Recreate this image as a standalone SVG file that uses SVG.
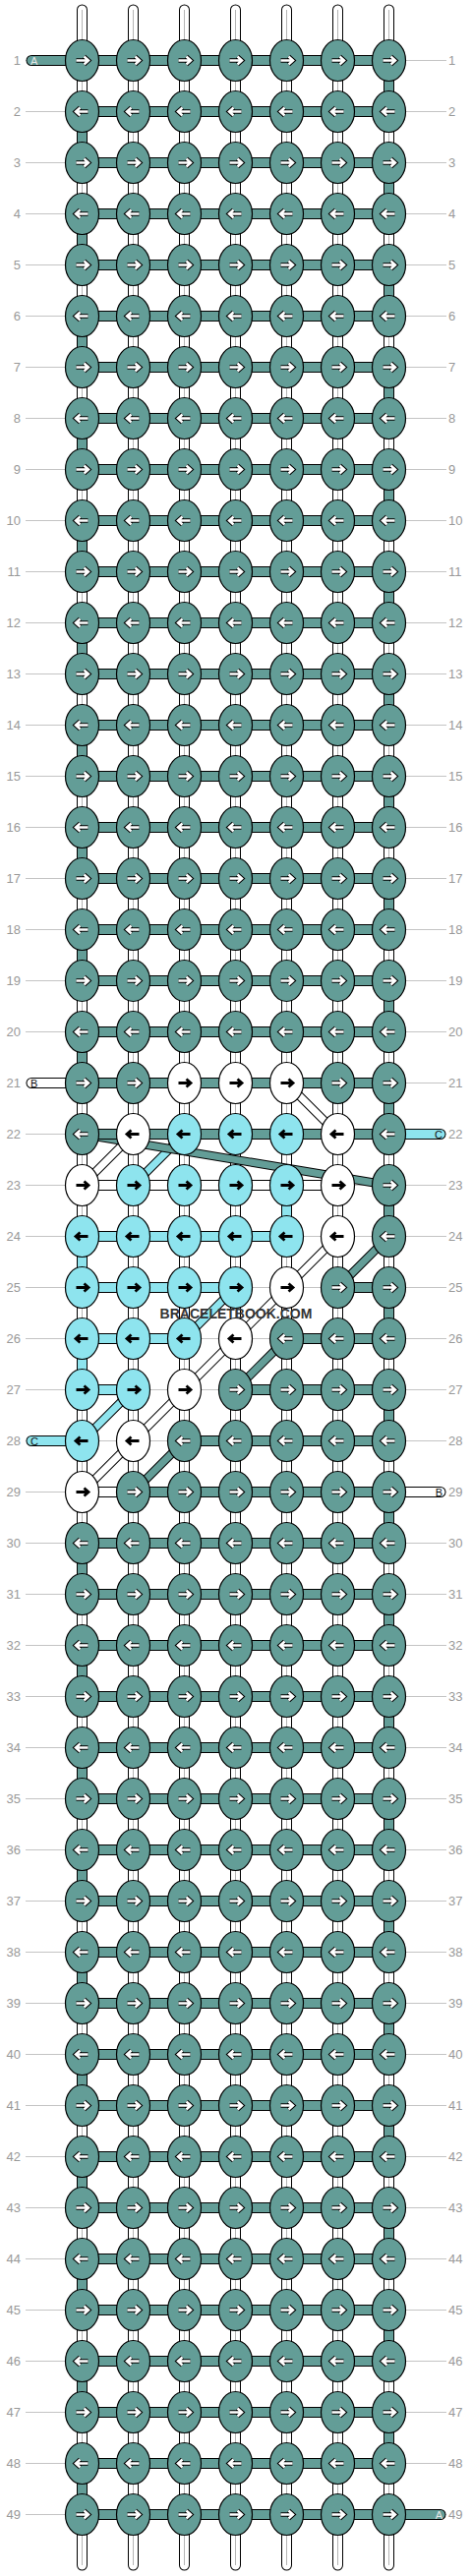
<svg xmlns="http://www.w3.org/2000/svg" width="480" height="2620" viewBox="0 0 480 2620">
<style>
.gl{fill:none;stroke:#c4c4c4;stroke-width:1}
.k{fill:none;stroke:#000;stroke-width:11}
.kd{fill:none;stroke:#000;stroke-width:9}
.fT{fill:none;stroke:#639d97;stroke-width:9}
.fC{fill:none;stroke:#8ee4ee;stroke-width:9}
.fW{fill:none;stroke:#fff;stroke-width:9}
.dT{fill:none;stroke:#639d97;stroke-width:7}
.dC{fill:none;stroke:#8ee4ee;stroke-width:7}
.dW{fill:none;stroke:#fff;stroke-width:7}
.gc{fill:none;stroke:#b4b4b4;stroke-width:1}
.rc{stroke-linecap:round}
.eT{fill:#639d97;stroke:#000;stroke-width:1.2}
.eW{fill:#fff;stroke:#000;stroke-width:1.2}
.eC{fill:#8ee4ee;stroke:#000;stroke-width:1.2}
.ao{fill:none;stroke:#000;stroke-width:4.6}
.ai{fill:none;stroke:#fff;stroke-width:2.5}
.ab{fill:none;stroke:#000;stroke-width:2.8}
.l{font-family:"Liberation Sans",Arial,sans-serif;font-size:13px;fill:#999}
.s{font-family:"Liberation Sans",Arial,sans-serif;font-size:11px}
.wm{font-family:"Liberation Sans",Arial,sans-serif;font-size:14px;font-weight:bold;fill:#333}
</style>
<defs>
<path id="aR" d="M-6 0H6.5M2-4L6.5 0 2 4"/>
<path id="aL" d="M6 0H-6.5M-2-4L-6.5 0-2 4"/>
<g id="TR"><ellipse class="eT" rx="17" ry="21"/><use href="#aR" class="ao"/><use href="#aR" class="ai"/></g>
<g id="TL"><ellipse class="eT" rx="17" ry="21"/><use href="#aL" class="ao"/><use href="#aL" class="ai"/></g>
<g id="WR"><ellipse class="eW" rx="17" ry="21"/><use href="#aR" class="ab"/></g>
<g id="WL"><ellipse class="eW" rx="17" ry="21"/><use href="#aL" class="ab"/></g>
<g id="CR"><ellipse class="eC" rx="17" ry="21"/><use href="#aR" class="ab"/></g>
<g id="CL"><ellipse class="eC" rx="17" ry="21"/><use href="#aL" class="ab"/></g>
<path id="vW" d="M83.5 10V2609M135.5 10V2609M187.5 10V2609M239.5 10V2609M291.5 10V2609M343.5 10V2609M395.5 10V2609"/>
<path id="vT" d="M395.5 61.5V113.5M395.5 165.5V217.5M395.5 269.5V321.5M395.5 373.5V425.5M395.5 477.5V529.5M395.5 581.5V633.5M395.5 685.5V737.5M395.5 789.5V841.5M395.5 893.5V945.5M395.5 997.5V1049.5M395.5 1101.5V1153.5M395.5 1205.5V1257.5M395.5 1309.5V1361.5M395.5 1413.5V1465.5M395.5 1517.5V1569.5M395.5 1621.5V1673.5M395.5 1725.5V1777.5M395.5 1829.5V1881.5M395.5 1933.5V1985.5M395.5 2037.5V2089.5M395.5 2141.5V2193.5M395.5 2245.5V2297.5M395.5 2349.5V2401.5M395.5 2453.5V2505.5M83.5 113.5V165.5M83.5 217.5V269.5M83.5 321.5V373.5M83.5 425.5V477.5M83.5 529.5V581.5M83.5 633.5V685.5M83.5 737.5V789.5M83.5 841.5V893.5M83.5 945.5V997.5M83.5 1049.5V1101.5M83.5 1569.5V1621.5M83.5 1673.5V1725.5M83.5 1777.5V1829.5M83.5 1881.5V1933.5M83.5 1985.5V2037.5M83.5 2089.5V2141.5M83.5 2193.5V2245.5M83.5 2297.5V2349.5M83.5 2401.5V2453.5M83.5 2505.5V2557.5"/>
<path id="vC" d="M291.5 1205.5V1257.5M83.5 1257.5V1309.5M83.5 1361.5V1413.5"/>
<path id="hT" d="M83.5 61.5H395.5M83.5 113.5H395.5M83.5 165.5H395.5M83.5 217.5H395.5M83.5 269.5H395.5M83.5 321.5H395.5M83.5 373.5H395.5M83.5 425.5H395.5M83.5 477.5H395.5M83.5 529.5H395.5M83.5 581.5H395.5M83.5 633.5H395.5M83.5 685.5H395.5M83.5 737.5H395.5M83.5 789.5H395.5M83.5 841.5H395.5M83.5 893.5H395.5M83.5 945.5H395.5M83.5 997.5H395.5M83.5 1049.5H395.5M83.5 1101.5H395.5M83.5 1153.5H395.5M343.5 1309.5H395.5M291.5 1361.5H395.5M239.5 1413.5H395.5M187.5 1465.5H395.5M135.5 1517.5H395.5M83.5 1569.5H395.5M83.5 1621.5H395.5M83.5 1673.5H395.5M83.5 1725.5H395.5M83.5 1777.5H395.5M83.5 1829.5H395.5M83.5 1881.5H395.5M83.5 1933.5H395.5M83.5 1985.5H395.5M83.5 2037.5H395.5M83.5 2089.5H395.5M83.5 2141.5H395.5M83.5 2193.5H395.5M83.5 2245.5H395.5M83.5 2297.5H395.5M83.5 2349.5H395.5M83.5 2401.5H395.5M83.5 2453.5H395.5M83.5 2505.5H395.5M83.5 2557.5H395.5"/>
<path id="hC" d="M83.5 1257.5H291.5M83.5 1309.5H239.5M83.5 1361.5H187.5M83.5 1413.5H135.5"/>
<path id="hW" d="M83.5 1205.5H343.5M83.5 1517.5H135.5"/>
<path id="sT" d="M32 61.5H83.5M395.5 2557.5H448"/>
<path id="sW" d="M32 1101.5H83.5M395.5 1517.5H448"/>
<path id="sC" d="M395.5 1153.5H448M32 1465.5H83.5"/>
<path id="dW" d="M291.5 1101.5L343.5 1153.5M135.5 1153.5L83.5 1205.5M343.5 1257.5L83.5 1517.5"/>
<path id="dC" d="M187.5 1153.5L135.5 1205.5M239.5 1309.5L187.5 1361.5M135.5 1413.5L83.5 1465.5"/>
<path id="dT" d="M83.5 1153.5L395.5 1205.5M395.5 1257.5L343.5 1309.5M291.5 1361.5L239.5 1413.5M187.5 1465.5L135.5 1517.5"/>
</defs>
<rect width="480" height="2620" fill="#fff"/>
<g id="connectors">
<path class="gl" d="M26 61.5H454M26 113.5H454M26 165.5H454M26 217.5H454M26 269.5H454M26 321.5H454M26 373.5H454M26 425.5H454M26 477.5H454M26 529.5H454M26 581.5H454M26 633.5H454M26 685.5H454M26 737.5H454M26 789.5H454M26 841.5H454M26 893.5H454M26 945.5H454M26 997.5H454M26 1049.5H454M26 1101.5H454M26 1153.5H454M26 1205.5H454M26 1257.5H454M26 1309.5H454M26 1361.5H454M26 1413.5H454M26 1465.5H454M26 1517.5H454M26 1569.5H454M26 1621.5H454M26 1673.5H454M26 1725.5H454M26 1777.5H454M26 1829.5H454M26 1881.5H454M26 1933.5H454M26 1985.5H454M26 2037.5H454M26 2089.5H454M26 2141.5H454M26 2193.5H454M26 2245.5H454M26 2297.5H454M26 2349.5H454M26 2401.5H454M26 2453.5H454M26 2505.5H454M26 2557.5H454"/>
<use href="#vW" class="k rc"/><use href="#vW" class="fW rc"/><use href="#vW" class="gc"/>
<use href="#vT" class="k"/><use href="#vT" class="fT"/>
<use href="#vC" class="k"/><use href="#vC" class="fC"/>
<use href="#dW" class="kd"/><use href="#dW" class="dW"/>
<use href="#dC" class="kd"/><use href="#dC" class="dC"/>
<use href="#dT" class="kd"/><use href="#dT" class="dT"/>
<use href="#hT" class="k"/><use href="#hC" class="k"/><use href="#hW" class="k"/>
<use href="#sT" class="k rc"/><use href="#sW" class="k rc"/><use href="#sC" class="k rc"/>
<use href="#hT" class="fT"/><use href="#hC" class="fC"/><use href="#hW" class="fW"/>
<use href="#sT" class="fT rc"/><use href="#sW" class="fW rc"/><use href="#sC" class="fC rc"/>
</g>
<g id="stub-labels" class="s">
<text x="31" y="65.5" fill="#e8e8e8">A</text>
<text x="450" y="2561.5" fill="#e8e8e8" text-anchor="end">A</text>
<text x="31" y="1105.5" fill="#111">B</text>
<text x="450" y="1521.5" fill="#111" text-anchor="end">B</text>
<text x="450" y="1157.5" fill="#111" text-anchor="end">C</text>
<text x="31" y="1469.5" fill="#111">C</text>
</g>
<g id="nodes">
<g transform="translate(0 61.5)"><text class="l" x="21" y="4.5" text-anchor="end">1</text><text class="l" x="456" y="4.5">1</text><g id="n1-1"><use href="#TR" x="83.5"/></g><g id="n1-2"><use href="#TR" x="135.5"/></g><g id="n1-3"><use href="#TR" x="187.5"/></g><g id="n1-4"><use href="#TR" x="239.5"/></g><g id="n1-5"><use href="#TR" x="291.5"/></g><g id="n1-6"><use href="#TR" x="343.5"/></g><g id="n1-7"><use href="#TR" x="395.5"/></g></g>
<g transform="translate(0 113.5)"><text class="l" x="21" y="4.5" text-anchor="end">2</text><text class="l" x="456" y="4.5">2</text><g id="n2-1"><use href="#TL" x="83.5"/></g><g id="n2-2"><use href="#TL" x="135.5"/></g><g id="n2-3"><use href="#TL" x="187.5"/></g><g id="n2-4"><use href="#TL" x="239.5"/></g><g id="n2-5"><use href="#TL" x="291.5"/></g><g id="n2-6"><use href="#TL" x="343.5"/></g><g id="n2-7"><use href="#TL" x="395.5"/></g></g>
<g transform="translate(0 165.5)"><text class="l" x="21" y="4.5" text-anchor="end">3</text><text class="l" x="456" y="4.5">3</text><g id="n3-1"><use href="#TR" x="83.5"/></g><g id="n3-2"><use href="#TR" x="135.5"/></g><g id="n3-3"><use href="#TR" x="187.5"/></g><g id="n3-4"><use href="#TR" x="239.5"/></g><g id="n3-5"><use href="#TR" x="291.5"/></g><g id="n3-6"><use href="#TR" x="343.5"/></g><g id="n3-7"><use href="#TR" x="395.5"/></g></g>
<g transform="translate(0 217.5)"><text class="l" x="21" y="4.5" text-anchor="end">4</text><text class="l" x="456" y="4.5">4</text><g id="n4-1"><use href="#TL" x="83.5"/></g><g id="n4-2"><use href="#TL" x="135.5"/></g><g id="n4-3"><use href="#TL" x="187.5"/></g><g id="n4-4"><use href="#TL" x="239.5"/></g><g id="n4-5"><use href="#TL" x="291.5"/></g><g id="n4-6"><use href="#TL" x="343.5"/></g><g id="n4-7"><use href="#TL" x="395.5"/></g></g>
<g transform="translate(0 269.5)"><text class="l" x="21" y="4.5" text-anchor="end">5</text><text class="l" x="456" y="4.5">5</text><g id="n5-1"><use href="#TR" x="83.5"/></g><g id="n5-2"><use href="#TR" x="135.5"/></g><g id="n5-3"><use href="#TR" x="187.5"/></g><g id="n5-4"><use href="#TR" x="239.5"/></g><g id="n5-5"><use href="#TR" x="291.5"/></g><g id="n5-6"><use href="#TR" x="343.5"/></g><g id="n5-7"><use href="#TR" x="395.5"/></g></g>
<g transform="translate(0 321.5)"><text class="l" x="21" y="4.5" text-anchor="end">6</text><text class="l" x="456" y="4.5">6</text><g id="n6-1"><use href="#TL" x="83.5"/></g><g id="n6-2"><use href="#TL" x="135.5"/></g><g id="n6-3"><use href="#TL" x="187.5"/></g><g id="n6-4"><use href="#TL" x="239.5"/></g><g id="n6-5"><use href="#TL" x="291.5"/></g><g id="n6-6"><use href="#TL" x="343.5"/></g><g id="n6-7"><use href="#TL" x="395.5"/></g></g>
<g transform="translate(0 373.5)"><text class="l" x="21" y="4.5" text-anchor="end">7</text><text class="l" x="456" y="4.5">7</text><g id="n7-1"><use href="#TR" x="83.5"/></g><g id="n7-2"><use href="#TR" x="135.5"/></g><g id="n7-3"><use href="#TR" x="187.5"/></g><g id="n7-4"><use href="#TR" x="239.5"/></g><g id="n7-5"><use href="#TR" x="291.5"/></g><g id="n7-6"><use href="#TR" x="343.5"/></g><g id="n7-7"><use href="#TR" x="395.5"/></g></g>
<g transform="translate(0 425.5)"><text class="l" x="21" y="4.5" text-anchor="end">8</text><text class="l" x="456" y="4.5">8</text><g id="n8-1"><use href="#TL" x="83.5"/></g><g id="n8-2"><use href="#TL" x="135.5"/></g><g id="n8-3"><use href="#TL" x="187.5"/></g><g id="n8-4"><use href="#TL" x="239.5"/></g><g id="n8-5"><use href="#TL" x="291.5"/></g><g id="n8-6"><use href="#TL" x="343.5"/></g><g id="n8-7"><use href="#TL" x="395.5"/></g></g>
<g transform="translate(0 477.5)"><text class="l" x="21" y="4.5" text-anchor="end">9</text><text class="l" x="456" y="4.5">9</text><g id="n9-1"><use href="#TR" x="83.5"/></g><g id="n9-2"><use href="#TR" x="135.5"/></g><g id="n9-3"><use href="#TR" x="187.5"/></g><g id="n9-4"><use href="#TR" x="239.5"/></g><g id="n9-5"><use href="#TR" x="291.5"/></g><g id="n9-6"><use href="#TR" x="343.5"/></g><g id="n9-7"><use href="#TR" x="395.5"/></g></g>
<g transform="translate(0 529.5)"><text class="l" x="21" y="4.5" text-anchor="end">10</text><text class="l" x="456" y="4.5">10</text><g id="n10-1"><use href="#TL" x="83.5"/></g><g id="n10-2"><use href="#TL" x="135.5"/></g><g id="n10-3"><use href="#TL" x="187.5"/></g><g id="n10-4"><use href="#TL" x="239.5"/></g><g id="n10-5"><use href="#TL" x="291.5"/></g><g id="n10-6"><use href="#TL" x="343.5"/></g><g id="n10-7"><use href="#TL" x="395.5"/></g></g>
<g transform="translate(0 581.5)"><text class="l" x="21" y="4.5" text-anchor="end">11</text><text class="l" x="456" y="4.5">11</text><g id="n11-1"><use href="#TR" x="83.5"/></g><g id="n11-2"><use href="#TR" x="135.5"/></g><g id="n11-3"><use href="#TR" x="187.5"/></g><g id="n11-4"><use href="#TR" x="239.5"/></g><g id="n11-5"><use href="#TR" x="291.5"/></g><g id="n11-6"><use href="#TR" x="343.5"/></g><g id="n11-7"><use href="#TR" x="395.5"/></g></g>
<g transform="translate(0 633.5)"><text class="l" x="21" y="4.5" text-anchor="end">12</text><text class="l" x="456" y="4.5">12</text><g id="n12-1"><use href="#TL" x="83.5"/></g><g id="n12-2"><use href="#TL" x="135.5"/></g><g id="n12-3"><use href="#TL" x="187.5"/></g><g id="n12-4"><use href="#TL" x="239.5"/></g><g id="n12-5"><use href="#TL" x="291.5"/></g><g id="n12-6"><use href="#TL" x="343.5"/></g><g id="n12-7"><use href="#TL" x="395.5"/></g></g>
<g transform="translate(0 685.5)"><text class="l" x="21" y="4.5" text-anchor="end">13</text><text class="l" x="456" y="4.5">13</text><g id="n13-1"><use href="#TR" x="83.5"/></g><g id="n13-2"><use href="#TR" x="135.5"/></g><g id="n13-3"><use href="#TR" x="187.5"/></g><g id="n13-4"><use href="#TR" x="239.5"/></g><g id="n13-5"><use href="#TR" x="291.5"/></g><g id="n13-6"><use href="#TR" x="343.5"/></g><g id="n13-7"><use href="#TR" x="395.5"/></g></g>
<g transform="translate(0 737.5)"><text class="l" x="21" y="4.5" text-anchor="end">14</text><text class="l" x="456" y="4.5">14</text><g id="n14-1"><use href="#TL" x="83.5"/></g><g id="n14-2"><use href="#TL" x="135.5"/></g><g id="n14-3"><use href="#TL" x="187.5"/></g><g id="n14-4"><use href="#TL" x="239.5"/></g><g id="n14-5"><use href="#TL" x="291.5"/></g><g id="n14-6"><use href="#TL" x="343.5"/></g><g id="n14-7"><use href="#TL" x="395.5"/></g></g>
<g transform="translate(0 789.5)"><text class="l" x="21" y="4.5" text-anchor="end">15</text><text class="l" x="456" y="4.5">15</text><g id="n15-1"><use href="#TR" x="83.5"/></g><g id="n15-2"><use href="#TR" x="135.5"/></g><g id="n15-3"><use href="#TR" x="187.5"/></g><g id="n15-4"><use href="#TR" x="239.5"/></g><g id="n15-5"><use href="#TR" x="291.5"/></g><g id="n15-6"><use href="#TR" x="343.5"/></g><g id="n15-7"><use href="#TR" x="395.5"/></g></g>
<g transform="translate(0 841.5)"><text class="l" x="21" y="4.5" text-anchor="end">16</text><text class="l" x="456" y="4.5">16</text><g id="n16-1"><use href="#TL" x="83.5"/></g><g id="n16-2"><use href="#TL" x="135.5"/></g><g id="n16-3"><use href="#TL" x="187.5"/></g><g id="n16-4"><use href="#TL" x="239.5"/></g><g id="n16-5"><use href="#TL" x="291.5"/></g><g id="n16-6"><use href="#TL" x="343.5"/></g><g id="n16-7"><use href="#TL" x="395.5"/></g></g>
<g transform="translate(0 893.5)"><text class="l" x="21" y="4.5" text-anchor="end">17</text><text class="l" x="456" y="4.5">17</text><g id="n17-1"><use href="#TR" x="83.5"/></g><g id="n17-2"><use href="#TR" x="135.5"/></g><g id="n17-3"><use href="#TR" x="187.5"/></g><g id="n17-4"><use href="#TR" x="239.5"/></g><g id="n17-5"><use href="#TR" x="291.5"/></g><g id="n17-6"><use href="#TR" x="343.5"/></g><g id="n17-7"><use href="#TR" x="395.5"/></g></g>
<g transform="translate(0 945.5)"><text class="l" x="21" y="4.5" text-anchor="end">18</text><text class="l" x="456" y="4.5">18</text><g id="n18-1"><use href="#TL" x="83.5"/></g><g id="n18-2"><use href="#TL" x="135.5"/></g><g id="n18-3"><use href="#TL" x="187.5"/></g><g id="n18-4"><use href="#TL" x="239.5"/></g><g id="n18-5"><use href="#TL" x="291.5"/></g><g id="n18-6"><use href="#TL" x="343.5"/></g><g id="n18-7"><use href="#TL" x="395.5"/></g></g>
<g transform="translate(0 997.5)"><text class="l" x="21" y="4.5" text-anchor="end">19</text><text class="l" x="456" y="4.5">19</text><g id="n19-1"><use href="#TR" x="83.5"/></g><g id="n19-2"><use href="#TR" x="135.5"/></g><g id="n19-3"><use href="#TR" x="187.5"/></g><g id="n19-4"><use href="#TR" x="239.5"/></g><g id="n19-5"><use href="#TR" x="291.5"/></g><g id="n19-6"><use href="#TR" x="343.5"/></g><g id="n19-7"><use href="#TR" x="395.5"/></g></g>
<g transform="translate(0 1049.5)"><text class="l" x="21" y="4.5" text-anchor="end">20</text><text class="l" x="456" y="4.5">20</text><g id="n20-1"><use href="#TL" x="83.5"/></g><g id="n20-2"><use href="#TL" x="135.5"/></g><g id="n20-3"><use href="#TL" x="187.5"/></g><g id="n20-4"><use href="#TL" x="239.5"/></g><g id="n20-5"><use href="#TL" x="291.5"/></g><g id="n20-6"><use href="#TL" x="343.5"/></g><g id="n20-7"><use href="#TL" x="395.5"/></g></g>
<g transform="translate(0 1101.5)"><text class="l" x="21" y="4.5" text-anchor="end">21</text><text class="l" x="456" y="4.5">21</text><g id="n21-1"><use href="#TR" x="83.5"/></g><g id="n21-2"><use href="#TR" x="135.5"/></g><g id="n21-3"><use href="#WR" x="187.5"/></g><g id="n21-4"><use href="#WR" x="239.5"/></g><g id="n21-5"><use href="#WR" x="291.5"/></g><g id="n21-6"><use href="#TR" x="343.5"/></g><g id="n21-7"><use href="#TR" x="395.5"/></g></g>
<g transform="translate(0 1153.5)"><text class="l" x="21" y="4.5" text-anchor="end">22</text><text class="l" x="456" y="4.5">22</text><g id="n22-1"><use href="#TL" x="83.5"/></g><g id="n22-2"><use href="#WL" x="135.5"/></g><g id="n22-3"><use href="#CL" x="187.5"/></g><g id="n22-4"><use href="#CL" x="239.5"/></g><g id="n22-5"><use href="#CL" x="291.5"/></g><g id="n22-6"><use href="#WL" x="343.5"/></g><g id="n22-7"><use href="#TL" x="395.5"/></g></g>
<g transform="translate(0 1205.5)"><text class="l" x="21" y="4.5" text-anchor="end">23</text><text class="l" x="456" y="4.5">23</text><g id="n23-1"><use href="#WR" x="83.5"/></g><g id="n23-2"><use href="#CR" x="135.5"/></g><g id="n23-3"><use href="#CR" x="187.5"/></g><g id="n23-4"><use href="#CR" x="239.5"/></g><g id="n23-5"><use href="#CR" x="291.5"/></g><g id="n23-6"><use href="#WR" x="343.5"/></g><g id="n23-7"><use href="#TR" x="395.5"/></g></g>
<g transform="translate(0 1257.5)"><text class="l" x="21" y="4.5" text-anchor="end">24</text><text class="l" x="456" y="4.5">24</text><g id="n24-1"><use href="#CL" x="83.5"/></g><g id="n24-2"><use href="#CL" x="135.5"/></g><g id="n24-3"><use href="#CL" x="187.5"/></g><g id="n24-4"><use href="#CL" x="239.5"/></g><g id="n24-5"><use href="#CL" x="291.5"/></g><g id="n24-6"><use href="#WL" x="343.5"/></g><g id="n24-7"><use href="#TL" x="395.5"/></g></g>
<g transform="translate(0 1309.5)"><text class="l" x="21" y="4.5" text-anchor="end">25</text><text class="l" x="456" y="4.5">25</text><g id="n25-1"><use href="#CR" x="83.5"/></g><g id="n25-2"><use href="#CR" x="135.5"/></g><g id="n25-3"><use href="#CR" x="187.5"/></g><g id="n25-4"><use href="#CR" x="239.5"/></g><g id="n25-5"><use href="#WR" x="291.5"/></g><g id="n25-6"><use href="#TR" x="343.5"/></g><g id="n25-7"><use href="#TR" x="395.5"/></g></g>
<g transform="translate(0 1361.5)"><text class="l" x="21" y="4.5" text-anchor="end">26</text><text class="l" x="456" y="4.5">26</text><g id="n26-1"><use href="#CL" x="83.5"/></g><g id="n26-2"><use href="#CL" x="135.5"/></g><g id="n26-3"><use href="#CL" x="187.5"/></g><g id="n26-4"><use href="#WL" x="239.5"/></g><g id="n26-5"><use href="#TL" x="291.5"/></g><g id="n26-6"><use href="#TL" x="343.5"/></g><g id="n26-7"><use href="#TL" x="395.5"/></g></g>
<g transform="translate(0 1413.5)"><text class="l" x="21" y="4.5" text-anchor="end">27</text><text class="l" x="456" y="4.5">27</text><g id="n27-1"><use href="#CR" x="83.5"/></g><g id="n27-2"><use href="#CR" x="135.5"/></g><g id="n27-3"><use href="#WR" x="187.5"/></g><g id="n27-4"><use href="#TR" x="239.5"/></g><g id="n27-5"><use href="#TR" x="291.5"/></g><g id="n27-6"><use href="#TR" x="343.5"/></g><g id="n27-7"><use href="#TR" x="395.5"/></g></g>
<g transform="translate(0 1465.5)"><text class="l" x="21" y="4.5" text-anchor="end">28</text><text class="l" x="456" y="4.5">28</text><g id="n28-1"><use href="#CL" x="83.5"/></g><g id="n28-2"><use href="#WL" x="135.5"/></g><g id="n28-3"><use href="#TL" x="187.5"/></g><g id="n28-4"><use href="#TL" x="239.5"/></g><g id="n28-5"><use href="#TL" x="291.5"/></g><g id="n28-6"><use href="#TL" x="343.5"/></g><g id="n28-7"><use href="#TL" x="395.5"/></g></g>
<g transform="translate(0 1517.5)"><text class="l" x="21" y="4.5" text-anchor="end">29</text><text class="l" x="456" y="4.5">29</text><g id="n29-1"><use href="#WR" x="83.5"/></g><g id="n29-2"><use href="#TR" x="135.5"/></g><g id="n29-3"><use href="#TR" x="187.5"/></g><g id="n29-4"><use href="#TR" x="239.5"/></g><g id="n29-5"><use href="#TR" x="291.5"/></g><g id="n29-6"><use href="#TR" x="343.5"/></g><g id="n29-7"><use href="#TR" x="395.5"/></g></g>
<g transform="translate(0 1569.5)"><text class="l" x="21" y="4.5" text-anchor="end">30</text><text class="l" x="456" y="4.5">30</text><g id="n30-1"><use href="#TL" x="83.5"/></g><g id="n30-2"><use href="#TL" x="135.5"/></g><g id="n30-3"><use href="#TL" x="187.5"/></g><g id="n30-4"><use href="#TL" x="239.5"/></g><g id="n30-5"><use href="#TL" x="291.5"/></g><g id="n30-6"><use href="#TL" x="343.5"/></g><g id="n30-7"><use href="#TL" x="395.5"/></g></g>
<g transform="translate(0 1621.5)"><text class="l" x="21" y="4.5" text-anchor="end">31</text><text class="l" x="456" y="4.5">31</text><g id="n31-1"><use href="#TR" x="83.5"/></g><g id="n31-2"><use href="#TR" x="135.5"/></g><g id="n31-3"><use href="#TR" x="187.5"/></g><g id="n31-4"><use href="#TR" x="239.5"/></g><g id="n31-5"><use href="#TR" x="291.5"/></g><g id="n31-6"><use href="#TR" x="343.5"/></g><g id="n31-7"><use href="#TR" x="395.5"/></g></g>
<g transform="translate(0 1673.5)"><text class="l" x="21" y="4.5" text-anchor="end">32</text><text class="l" x="456" y="4.5">32</text><g id="n32-1"><use href="#TL" x="83.5"/></g><g id="n32-2"><use href="#TL" x="135.5"/></g><g id="n32-3"><use href="#TL" x="187.5"/></g><g id="n32-4"><use href="#TL" x="239.5"/></g><g id="n32-5"><use href="#TL" x="291.5"/></g><g id="n32-6"><use href="#TL" x="343.5"/></g><g id="n32-7"><use href="#TL" x="395.5"/></g></g>
<g transform="translate(0 1725.5)"><text class="l" x="21" y="4.5" text-anchor="end">33</text><text class="l" x="456" y="4.5">33</text><g id="n33-1"><use href="#TR" x="83.5"/></g><g id="n33-2"><use href="#TR" x="135.5"/></g><g id="n33-3"><use href="#TR" x="187.5"/></g><g id="n33-4"><use href="#TR" x="239.5"/></g><g id="n33-5"><use href="#TR" x="291.5"/></g><g id="n33-6"><use href="#TR" x="343.5"/></g><g id="n33-7"><use href="#TR" x="395.5"/></g></g>
<g transform="translate(0 1777.5)"><text class="l" x="21" y="4.5" text-anchor="end">34</text><text class="l" x="456" y="4.5">34</text><g id="n34-1"><use href="#TL" x="83.5"/></g><g id="n34-2"><use href="#TL" x="135.5"/></g><g id="n34-3"><use href="#TL" x="187.5"/></g><g id="n34-4"><use href="#TL" x="239.5"/></g><g id="n34-5"><use href="#TL" x="291.5"/></g><g id="n34-6"><use href="#TL" x="343.5"/></g><g id="n34-7"><use href="#TL" x="395.5"/></g></g>
<g transform="translate(0 1829.5)"><text class="l" x="21" y="4.5" text-anchor="end">35</text><text class="l" x="456" y="4.5">35</text><g id="n35-1"><use href="#TR" x="83.5"/></g><g id="n35-2"><use href="#TR" x="135.5"/></g><g id="n35-3"><use href="#TR" x="187.5"/></g><g id="n35-4"><use href="#TR" x="239.5"/></g><g id="n35-5"><use href="#TR" x="291.5"/></g><g id="n35-6"><use href="#TR" x="343.5"/></g><g id="n35-7"><use href="#TR" x="395.5"/></g></g>
<g transform="translate(0 1881.5)"><text class="l" x="21" y="4.5" text-anchor="end">36</text><text class="l" x="456" y="4.5">36</text><g id="n36-1"><use href="#TL" x="83.5"/></g><g id="n36-2"><use href="#TL" x="135.5"/></g><g id="n36-3"><use href="#TL" x="187.5"/></g><g id="n36-4"><use href="#TL" x="239.5"/></g><g id="n36-5"><use href="#TL" x="291.5"/></g><g id="n36-6"><use href="#TL" x="343.5"/></g><g id="n36-7"><use href="#TL" x="395.5"/></g></g>
<g transform="translate(0 1933.5)"><text class="l" x="21" y="4.5" text-anchor="end">37</text><text class="l" x="456" y="4.5">37</text><g id="n37-1"><use href="#TR" x="83.5"/></g><g id="n37-2"><use href="#TR" x="135.5"/></g><g id="n37-3"><use href="#TR" x="187.5"/></g><g id="n37-4"><use href="#TR" x="239.5"/></g><g id="n37-5"><use href="#TR" x="291.5"/></g><g id="n37-6"><use href="#TR" x="343.5"/></g><g id="n37-7"><use href="#TR" x="395.5"/></g></g>
<g transform="translate(0 1985.5)"><text class="l" x="21" y="4.5" text-anchor="end">38</text><text class="l" x="456" y="4.5">38</text><g id="n38-1"><use href="#TL" x="83.5"/></g><g id="n38-2"><use href="#TL" x="135.5"/></g><g id="n38-3"><use href="#TL" x="187.5"/></g><g id="n38-4"><use href="#TL" x="239.5"/></g><g id="n38-5"><use href="#TL" x="291.5"/></g><g id="n38-6"><use href="#TL" x="343.5"/></g><g id="n38-7"><use href="#TL" x="395.5"/></g></g>
<g transform="translate(0 2037.5)"><text class="l" x="21" y="4.5" text-anchor="end">39</text><text class="l" x="456" y="4.5">39</text><g id="n39-1"><use href="#TR" x="83.5"/></g><g id="n39-2"><use href="#TR" x="135.5"/></g><g id="n39-3"><use href="#TR" x="187.5"/></g><g id="n39-4"><use href="#TR" x="239.5"/></g><g id="n39-5"><use href="#TR" x="291.5"/></g><g id="n39-6"><use href="#TR" x="343.5"/></g><g id="n39-7"><use href="#TR" x="395.5"/></g></g>
<g transform="translate(0 2089.5)"><text class="l" x="21" y="4.5" text-anchor="end">40</text><text class="l" x="456" y="4.5">40</text><g id="n40-1"><use href="#TL" x="83.5"/></g><g id="n40-2"><use href="#TL" x="135.5"/></g><g id="n40-3"><use href="#TL" x="187.5"/></g><g id="n40-4"><use href="#TL" x="239.5"/></g><g id="n40-5"><use href="#TL" x="291.5"/></g><g id="n40-6"><use href="#TL" x="343.5"/></g><g id="n40-7"><use href="#TL" x="395.5"/></g></g>
<g transform="translate(0 2141.5)"><text class="l" x="21" y="4.5" text-anchor="end">41</text><text class="l" x="456" y="4.5">41</text><g id="n41-1"><use href="#TR" x="83.5"/></g><g id="n41-2"><use href="#TR" x="135.5"/></g><g id="n41-3"><use href="#TR" x="187.5"/></g><g id="n41-4"><use href="#TR" x="239.5"/></g><g id="n41-5"><use href="#TR" x="291.5"/></g><g id="n41-6"><use href="#TR" x="343.5"/></g><g id="n41-7"><use href="#TR" x="395.5"/></g></g>
<g transform="translate(0 2193.5)"><text class="l" x="21" y="4.5" text-anchor="end">42</text><text class="l" x="456" y="4.5">42</text><g id="n42-1"><use href="#TL" x="83.5"/></g><g id="n42-2"><use href="#TL" x="135.5"/></g><g id="n42-3"><use href="#TL" x="187.5"/></g><g id="n42-4"><use href="#TL" x="239.5"/></g><g id="n42-5"><use href="#TL" x="291.5"/></g><g id="n42-6"><use href="#TL" x="343.5"/></g><g id="n42-7"><use href="#TL" x="395.5"/></g></g>
<g transform="translate(0 2245.5)"><text class="l" x="21" y="4.5" text-anchor="end">43</text><text class="l" x="456" y="4.5">43</text><g id="n43-1"><use href="#TR" x="83.5"/></g><g id="n43-2"><use href="#TR" x="135.5"/></g><g id="n43-3"><use href="#TR" x="187.5"/></g><g id="n43-4"><use href="#TR" x="239.5"/></g><g id="n43-5"><use href="#TR" x="291.5"/></g><g id="n43-6"><use href="#TR" x="343.5"/></g><g id="n43-7"><use href="#TR" x="395.5"/></g></g>
<g transform="translate(0 2297.5)"><text class="l" x="21" y="4.5" text-anchor="end">44</text><text class="l" x="456" y="4.5">44</text><g id="n44-1"><use href="#TL" x="83.5"/></g><g id="n44-2"><use href="#TL" x="135.5"/></g><g id="n44-3"><use href="#TL" x="187.5"/></g><g id="n44-4"><use href="#TL" x="239.5"/></g><g id="n44-5"><use href="#TL" x="291.5"/></g><g id="n44-6"><use href="#TL" x="343.5"/></g><g id="n44-7"><use href="#TL" x="395.5"/></g></g>
<g transform="translate(0 2349.5)"><text class="l" x="21" y="4.5" text-anchor="end">45</text><text class="l" x="456" y="4.5">45</text><g id="n45-1"><use href="#TR" x="83.5"/></g><g id="n45-2"><use href="#TR" x="135.5"/></g><g id="n45-3"><use href="#TR" x="187.5"/></g><g id="n45-4"><use href="#TR" x="239.5"/></g><g id="n45-5"><use href="#TR" x="291.5"/></g><g id="n45-6"><use href="#TR" x="343.5"/></g><g id="n45-7"><use href="#TR" x="395.5"/></g></g>
<g transform="translate(0 2401.5)"><text class="l" x="21" y="4.5" text-anchor="end">46</text><text class="l" x="456" y="4.5">46</text><g id="n46-1"><use href="#TL" x="83.5"/></g><g id="n46-2"><use href="#TL" x="135.5"/></g><g id="n46-3"><use href="#TL" x="187.5"/></g><g id="n46-4"><use href="#TL" x="239.5"/></g><g id="n46-5"><use href="#TL" x="291.5"/></g><g id="n46-6"><use href="#TL" x="343.5"/></g><g id="n46-7"><use href="#TL" x="395.5"/></g></g>
<g transform="translate(0 2453.5)"><text class="l" x="21" y="4.5" text-anchor="end">47</text><text class="l" x="456" y="4.5">47</text><g id="n47-1"><use href="#TR" x="83.5"/></g><g id="n47-2"><use href="#TR" x="135.5"/></g><g id="n47-3"><use href="#TR" x="187.5"/></g><g id="n47-4"><use href="#TR" x="239.5"/></g><g id="n47-5"><use href="#TR" x="291.5"/></g><g id="n47-6"><use href="#TR" x="343.5"/></g><g id="n47-7"><use href="#TR" x="395.5"/></g></g>
<g transform="translate(0 2505.5)"><text class="l" x="21" y="4.5" text-anchor="end">48</text><text class="l" x="456" y="4.5">48</text><g id="n48-1"><use href="#TL" x="83.5"/></g><g id="n48-2"><use href="#TL" x="135.5"/></g><g id="n48-3"><use href="#TL" x="187.5"/></g><g id="n48-4"><use href="#TL" x="239.5"/></g><g id="n48-5"><use href="#TL" x="291.5"/></g><g id="n48-6"><use href="#TL" x="343.5"/></g><g id="n48-7"><use href="#TL" x="395.5"/></g></g>
<g transform="translate(0 2557.5)"><text class="l" x="21" y="4.5" text-anchor="end">49</text><text class="l" x="456" y="4.5">49</text><g id="n49-1"><use href="#TR" x="83.5"/></g><g id="n49-2"><use href="#TR" x="135.5"/></g><g id="n49-3"><use href="#TR" x="187.5"/></g><g id="n49-4"><use href="#TR" x="239.5"/></g><g id="n49-5"><use href="#TR" x="291.5"/></g><g id="n49-6"><use href="#TR" x="343.5"/></g><g id="n49-7"><use href="#TR" x="395.5"/></g></g>
</g>
<text class="wm" x="240" y="1340.5" text-anchor="middle">BRACELETBOOK.COM</text>
</svg>
